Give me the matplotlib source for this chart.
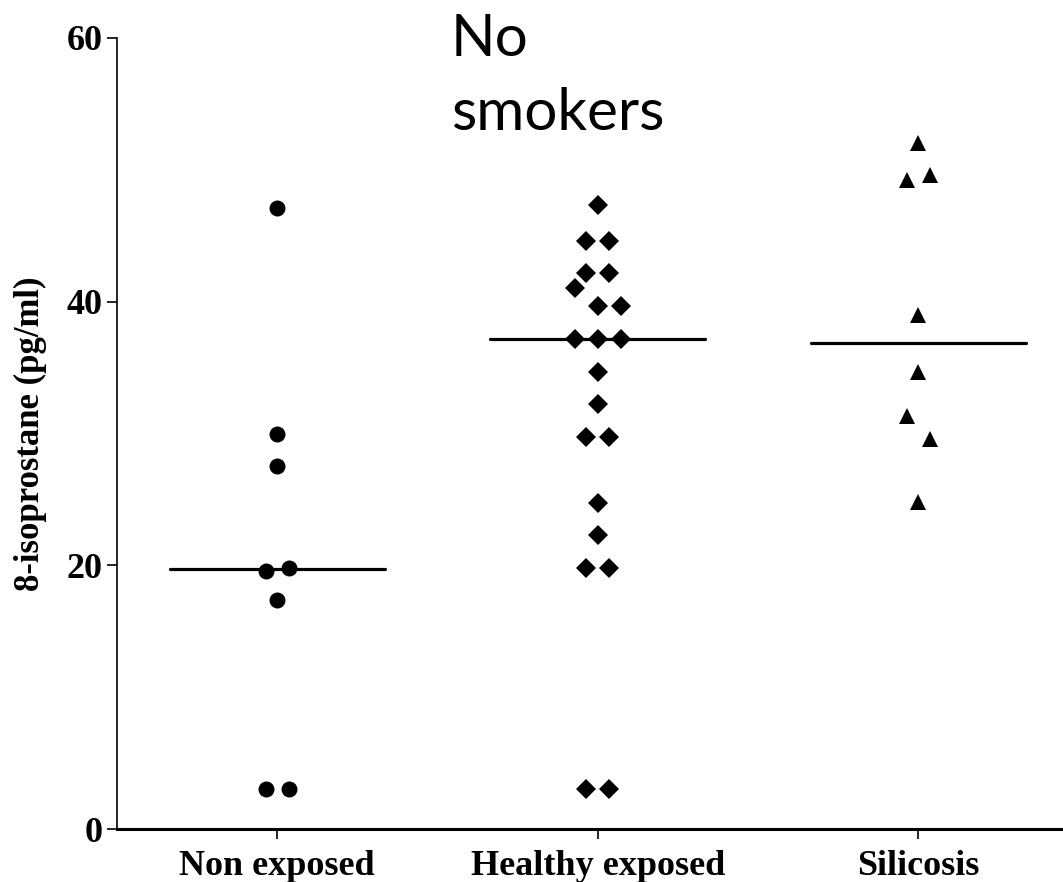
import matplotlib
matplotlib.use("Agg")
import matplotlib.pyplot as plt
import numpy as np

# groups and 8-isoprostane values (pg/ml)
groups = ["Non exposed", "Healthy exposed", "Silicosis"]
non_exposed = [47.1, 30.0, 27.5, 19.6, 19.8, 17.4, 3.0, 3.0]
healthy_exposed = [47.3, 44.6, 44.6, 42.15, 42.15, 41.0, 39.7, 39.7, 37.2, 37.2, 37.2,
                   34.7, 32.2, 29.7, 29.7, 24.75, 22.3, 19.8, 19.8, 3.0, 3.0]
silicosis = [52.0, 49.2, 49.6, 39.0, 34.7, 31.3, 29.6, 24.8]

# column-scatter slots (side-by-side placement of overlapping points)
non_exposed_slot = [0, 0, 0, -1, 1, 0, -1, 1]
healthy_exposed_slot = [0, -1, 1, -1, 1, -2, 0, 2, -2, 0, 2, 0, 0, -1, 1, 0, 0, -1, 1, -1, 1]
silicosis_slot = [0, -1, 1, 0, 0, -1, 1, 0]

y_ticks = [0, 20, 40, 60]

data = [non_exposed, healthy_exposed, silicosis]
slots = [non_exposed_slot, healthy_exposed_slot, silicosis_slot]
markers = ["o", "D", "^"]
msizes = [11.5, 10.2, 11.5]
slot_w = 0.036
half_line = 0.335

fig = plt.figure(figsize=(10.63, 8.82), dpi=100)
ax = fig.add_axes([117 / 1063, 53 / 882, 961.5 / 1063, 791 / 882])

for i in range(len(groups)):
    vals = np.array(data[i])
    xs = i + np.array(slots[i]) * slot_w
    ax.plot(xs, vals, linestyle="none", marker=markers[i], markersize=msizes[i],
            color="black", markeredgewidth=0, clip_on=False, zorder=3)
    med = np.median(vals)
    ax.plot([i - half_line, i + half_line], [med, med], color="black", lw=2.3,
            solid_capstyle="round", zorder=2)

ax.set_xlim(-0.5, 2.5)
ax.set_ylim(0, 60)
ax.set_xticks(range(len(groups)))
ax.set_xticklabels(groups)
ax.set_yticks(y_ticks)

for s in ["top", "right"]:
    ax.spines[s].set_visible(False)
ax.spines["left"].set_linewidth(1.2)
ax.spines["bottom"].set_linewidth(2.2)
ax.spines["bottom"].set_clip_on(False)

ax.tick_params(axis="y", length=7.2, width=1.2, pad=3)
ax.tick_params(axis="x", length=7.2, width=1.2, pad=8)
for lab in ax.get_xticklabels() + ax.get_yticklabels():
    lab.set_fontfamily("Liberation Serif")
    lab.set_fontweight("bold")
    lab.set_fontsize(26)

ax.set_ylabel("8-isoprostane (pg/ml)", fontfamily="Liberation Serif", fontweight="bold",
              fontsize=25, labelpad=14)

fig.text(451 / 1063, 1 - 130 / 882, "No\nsmokers", fontfamily="Lato", fontsize=42,
         ha="left", va="baseline", linespacing=1.5)

fig.savefig("out.png", dpi=100)
